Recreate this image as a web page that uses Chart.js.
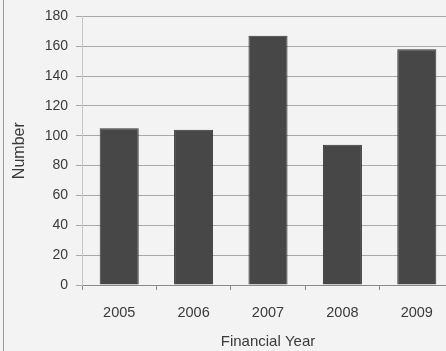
<!DOCTYPE html>
<html>
<head>
<meta charset="utf-8">
<script src="https://cdn.jsdelivr.net/npm/chart.js@4"></script>
<style>
  html, body { margin: 0; padding: 0; background: #f3f3f3; overflow: hidden; }
  #frame { position: absolute; left: 3px; top: 0; width: 1px; height: 351px; background: #9a9a9a; }
  #wrap { position: absolute; left: 0; top: 0; width: 460px; height: 351px; }
  #chart { filter: blur(0.4px); }
</style>
</head>
<body>
<div id="wrap"><canvas id="chart"></canvas></div>
<div id="frame"></div>
<script>
const years = ['2005', '2006', '2007', '2008', '2009'];
const counts = [105, 104, 167, 94, 158];
const yTicks = [0, 20, 40, 60, 80, 100, 120, 140, 160, 180];

const font = 'Arial, "Liberation Sans", sans-serif';

new Chart(document.getElementById('chart'), {
    type: 'bar',
    data: {
        labels: years,
        datasets: [{
            data: counts,
            backgroundColor: '#474747',
            borderColor: '#333333',
            borderWidth: 1,
            barPercentage: 0.525,
            categoryPercentage: 1
        }]
    },
    options: {
        responsive: true,
        maintainAspectRatio: false,
        animation: false,
        layout: { padding: { top: 16, right: 6, left: 0, bottom: 0 } },
        plugins: { legend: { display: false }, tooltip: { enabled: false } },
        scales: {
            x: {
                grid: { drawOnChartArea: false, drawTicks: true, tickLength: 5, color: '#8a8a8a' },
                border: { color: '#8a8a8a' },
                ticks: { color: '#3a3a3a', font: { family: font, size: 14.5 }, padding: 14 },
                title: { display: true, text: 'Financial Year', color: '#3a3a3a',
                    font: { family: font, size: 15 }, padding: { top: 0, bottom: 0 } },
                afterFit: s => { s.height = 66; }
            },
            y: {
                min: 0, max: 180,
                afterBuildTicks: s => { s.ticks = yTicks.map(v => ({ value: v })); },
                grid: { color: '#a9a9a9', tickLength: 6 },
                border: { color: '#c4c4c4' },
                ticks: { color: '#3a3a3a', font: { family: font, size: 14 }, padding: 8 },
                title: { display: true, text: 'Number', color: '#3a3a3a',
                    font: { family: font, size: 16 }, padding: { top: 10, bottom: 0 } },
                afterFit: s => { s.width = 82; }
            }
        }
    }
});
</script>
</body>
</html>
